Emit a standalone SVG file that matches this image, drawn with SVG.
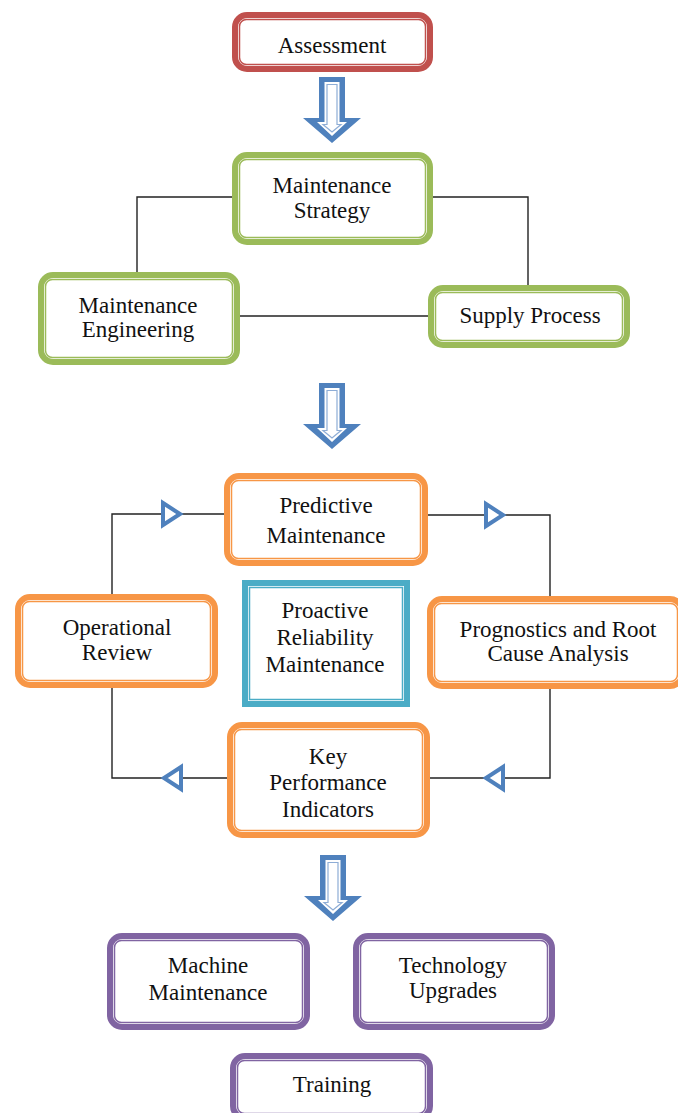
<svg xmlns="http://www.w3.org/2000/svg" width="678" height="1113" viewBox="0 0 678 1113">
<style>
text{font-family:"Liberation Serif","Times New Roman",serif;font-size:23px;fill:#111;text-anchor:middle}
.o{fill:#fff;stroke-width:6}
.i{fill:none;stroke-width:1.5}
.red{stroke:#C0504D}.grn{stroke:#9BBB59}.org{stroke:#F79646}.teal{stroke:#4BACC6}.pur{stroke:#8064A2}
.ln{fill:none;stroke:#222;stroke-width:1.4}
.tri{fill:#fff;stroke:#4F81BD;stroke-width:4;stroke-linejoin:miter}
</style>
<defs>
<g id="barrow">
<polygon points="-13,0 13,0 13,41 29,41 0,66 -29,41 -13,41" fill="#4F81BD"/>
<polygon points="-7.5,5 7.5,5 7.5,45 15,45 0,59 -15,45 -7.5,45" fill="#fff"/>
<polygon points="-5,7.5 5,7.5 5,47.5 9,47.5 0,55 -9,47.5 -5,47.5" fill="#fff" stroke="#8EADD6" stroke-width="1.2"/>
</g>
<polygon id="tri" points="-9,-11 8,0 -9,11" class="tri"/>
</defs>
<g id="connectors">
<polyline class="ln" points="232,197 137,197 137,272"/>
<polyline class="ln" points="433,197 528,197 528,285"/>
<line class="ln" x1="240" y1="316" x2="428" y2="316"/>
<polyline class="ln" points="224,514 112,514 112,594"/>
<polyline class="ln" points="428,515 550,515 550,596"/>
<polyline class="ln" points="550,689 550,778 430,778"/>
<polyline class="ln" points="112,688 112,778 227,778"/>
<use href="#tri" transform="translate(172,514)"/>
<use href="#tri" transform="translate(495,515)"/>
<use href="#tri" transform="translate(172,778) rotate(180)"/>
<use href="#tri" transform="translate(494,778) rotate(180)"/>
<use href="#barrow" transform="translate(332,77)"/>
<use href="#barrow" transform="translate(332,383)"/>
<use href="#barrow" transform="translate(333,855)"/>
</g>
<g id="assessment">
<rect class="o red" x="235" y="15" width="195" height="54" rx="12"/>
<rect class="i red" x="239.5" y="19.5" width="186" height="45" rx="7"/>
<text x="332" y="53">Assessment</text>
</g>
<g id="strategy">
<rect class="o grn" x="235" y="155" width="195" height="87" rx="12"/>
<rect class="i grn" x="239.5" y="159.5" width="186" height="78" rx="7"/>
<text x="332" y="193">Maintenance</text>
<text x="332" y="218">Strategy</text>
</g>
<g id="engineering">
<rect class="o grn" x="41" y="275" width="196" height="87" rx="12"/>
<rect class="i grn" x="45.5" y="279.5" width="187" height="78" rx="7"/>
<text x="138" y="313">Maintenance</text>
<text x="138" y="337">Engineering</text>
</g>
<g id="supply">
<rect class="o grn" x="431" y="288" width="196" height="57" rx="12"/>
<rect class="i grn" x="435.5" y="292.5" width="187" height="48" rx="7"/>
<text x="530" y="323">Supply Process</text>
</g>
<g id="predictive">
<rect class="o org" x="227" y="476" width="198" height="87" rx="12"/>
<rect class="i org" x="231.5" y="480.5" width="189" height="78" rx="7"/>
<text x="326" y="513">Predictive</text>
<text x="326" y="543">Maintenance</text>
</g>
<g id="operational">
<rect class="o org" x="18" y="597" width="197" height="88" rx="12"/>
<rect class="i org" x="22.5" y="601.5" width="188" height="79" rx="7"/>
<text x="117" y="635">Operational</text>
<text x="117" y="660">Review</text>
</g>
<g id="proactive">
<rect class="o teal" x="245" y="583" width="162" height="121"/>
<rect class="i teal" x="249.5" y="587.5" width="153" height="112"/>
<text x="325" y="618">Proactive</text>
<text x="325" y="645">Reliability</text>
<text x="325" y="672">Maintenance</text>
</g>
<g id="prognostics">
<rect class="o org" x="430" y="599" width="252" height="87" rx="12"/>
<rect class="i org" x="434.5" y="603.5" width="243" height="78" rx="7"/>
<text x="558" y="637">Prognostics and Root</text>
<text x="558" y="661">Cause Analysis</text>
</g>
<g id="kpi">
<rect class="o org" x="230" y="725" width="197" height="110" rx="12"/>
<rect class="i org" x="234.5" y="729.5" width="188" height="101" rx="7"/>
<text x="328" y="764">Key</text>
<text x="328" y="790">Performance</text>
<text x="328" y="817">Indicators</text>
</g>
<g id="machine">
<rect class="o pur" x="110" y="936" width="197" height="91" rx="12"/>
<rect class="i pur" x="114.5" y="940.5" width="188" height="82" rx="7"/>
<text x="208" y="973">Machine</text>
<text x="208" y="1000">Maintenance</text>
</g>
<g id="technology">
<rect class="o pur" x="356" y="936" width="196" height="91" rx="12"/>
<rect class="i pur" x="360.5" y="940.5" width="187" height="82" rx="7"/>
<text x="453" y="973">Technology</text>
<text x="453" y="998">Upgrades</text>
</g>
<g id="training">
<rect class="o pur" x="233" y="1056" width="197" height="62" rx="12"/>
<rect class="i pur" x="237.5" y="1060.5" width="188" height="53" rx="7"/>
<text x="332" y="1092">Training</text>
</g>
</svg>
